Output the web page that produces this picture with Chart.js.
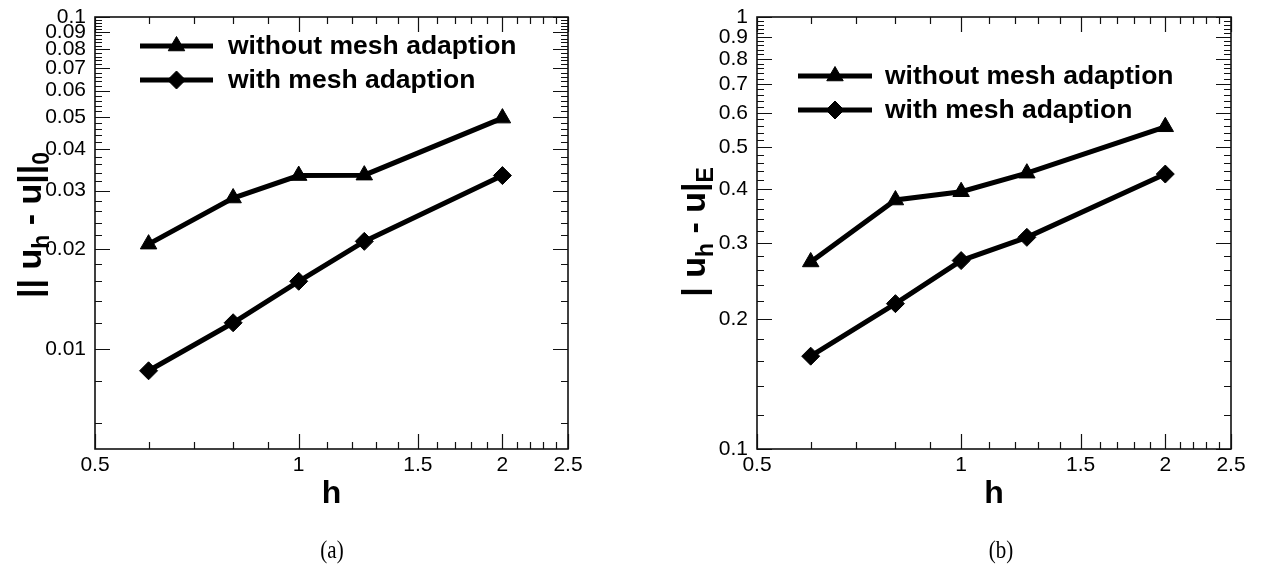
<!DOCTYPE html>
<html><head><meta charset="utf-8">
<script src="https://cdn.jsdelivr.net/npm/chart.js@4/dist/chart.umd.min.js"></script>
<style>
html,body{margin:0;padding:0;background:#fff;}
#wrap{position:relative;width:1264px;height:581px;overflow:hidden;background:#fff;}
canvas{position:absolute;top:0;}
#ca{left:0}
#cb{left:632px}
.cap{position:absolute;top:551px;font-family:'Liberation Serif','DejaVu Serif',serif;font-size:21px;color:#000;transform:translate(-50%,-50%) scaleY(1.15);white-space:nowrap;}
</style></head>
<body><div id="wrap">
<canvas id="ca" width="632" height="581"></canvas>
<canvas id="cb" width="632" height="581"></canvas>
<div class="cap" style="left:332px">(a)</div>
<div class="cap" style="left:1001px">(b)</div>
</div>
<script>
// ---------- data ----------
const hValues = [0.6, 0.8, 1.0, 1.25, 2.0];
const seriesLabels = ['without mesh adaption', 'with mesh adaption'];
const l2WithoutAdapt = [0.0207, 0.0285, 0.0333, 0.0334, 0.0496];
const l2WithAdapt    = [0.0086, 0.0120, 0.0160, 0.0211, 0.0333];
const enWithoutAdapt = [0.271, 0.377, 0.394, 0.435, 0.557];
const enWithAdapt    = [0.164, 0.217, 0.273, 0.309, 0.433];

const xTickLabels  = [0.5, 1, 1.5, 2, 2.5];
const yTickLabelsA = [0.01, 0.02, 0.03, 0.04, 0.05, 0.06, 0.07, 0.08, 0.09, 0.1];
const yTickLabelsB = [0.1, 0.2, 0.3, 0.4, 0.5, 0.6, 0.7, 0.8, 0.9, 1];

// minor tick positions
function minorTicks(from, to, step, majors) {
  const out = [];
  for (let k = Math.round(from / step); k * step <= to + 1e-12; k++) {
    const v = +(k * step).toFixed(6);
    if (!majors.some(m => Math.abs(m - v) < 1e-9)) out.push(v);
  }
  return out;
}
const xMinorTicks  = minorTicks(0.5, 2.5, 0.1, xTickLabels);
const yMinorTicksA = minorTicks(0.006, 0.1, 0.002, yTickLabelsA);
const yMinorTicksB = minorTicks(0.12, 1, 0.02, yTickLabelsB);

const FONT = "'Liberation Sans', Arial, Helvetica, sans-serif";

// ---------- plugins ----------
const decorPlugin = {
  id: 'decor',
  beforeDatasetsDraw(chart, args, o) {
    const ctx = chart.ctx, a = chart.chartArea;
    const xs = chart.scales.x, ys = chart.scales.y;
    ctx.save();
    ctx.strokeStyle = '#111';
    ctx.lineWidth = 1.2;
    ctx.beginPath();
    const tick = (vals, len, isX) => {
      vals.forEach(v => {
        if (isX) {
          const px = Math.round(xs.getPixelForValue(v)) + 0.5;
          ctx.moveTo(px, a.bottom); ctx.lineTo(px, a.bottom - len);
          ctx.moveTo(px, a.top); ctx.lineTo(px, a.top + len);
        } else {
          const py = Math.round(ys.getPixelForValue(v)) + 0.5;
          ctx.moveTo(a.left, py); ctx.lineTo(a.left + len, py);
          ctx.moveTo(a.right, py); ctx.lineTo(a.right - len, py);
        }
      });
    };
    tick(o.xMajor, 15, true);
    tick(o.xMinor, 7, true);
    tick(o.yMajor, 15, false);
    tick(o.yMinor, 7, false);
    ctx.stroke();
    ctx.restore();
  },
  afterDatasetsDraw(chart, args, o) {
    const ctx = chart.ctx, a = chart.chartArea;
    ctx.save();
    // frame
    ctx.strokeStyle = '#111';
    ctx.lineWidth = 1.6;
    ctx.strokeRect(a.left, a.top, a.right - a.left, a.bottom - a.top);

    // legend
    chart.data.datasets.forEach((ds, i) => {
      const y = o.legend.rows[i];
      ctx.strokeStyle = '#000';
      ctx.fillStyle = '#000';
      ctx.lineWidth = 5;
      ctx.beginPath();
      ctx.moveTo(o.legend.x1, y); ctx.lineTo(o.legend.x2, y);
      ctx.stroke();
      const cx = (o.legend.x1 + o.legend.x2) / 2;
      ctx.lineWidth = 1;
      Chart.helpers.drawPoint(ctx, {pointStyle: ds.pointStyle, rotation: 0, radius: ds.pointRadius, borderWidth: 1}, cx, y);
      ctx.font = 'bold 26.5px ' + FONT;
      ctx.textBaseline = 'middle';
      ctx.textAlign = 'left';
      ctx.fillText(ds.label, o.legend.tx, y + 1);
    });

    // y-axis title with subscripts (rotated)
    const t = o.ytitle;
    ctx.translate(t.x, t.y);
    ctx.rotate(-Math.PI / 2);
    ctx.fillStyle = '#000';
    ctx.textBaseline = 'alphabetic';
    ctx.textAlign = 'left';
    const mainF = 'bold ' + t.size + 'px ' + FONT;
    const subF = 'bold ' + t.sub + 'px ' + FONT;
    let total = 0;
    t.parts.forEach(p => { ctx.font = p.s ? subF : mainF; total += ctx.measureText(p.t).width; });
    let x = -total / 2;
    t.parts.forEach(p => {
      ctx.font = p.s ? subF : mainF;
      ctx.fillText(p.t, x, p.s ? t.subShift : 0);
      x += ctx.measureText(p.t).width;
    });
    ctx.restore();
  }
};

function makeChart(id, withoutVals, withVals, yMin, yMax, yLabels, yMinor, yAxisWidth, rightPad, decor) {
  const pts = vals => hValues.map((h, i) => ({x: h, y: vals[i]}));
  const dsBase = {
    borderColor: '#000', backgroundColor: '#000', borderWidth: 5,
    pointBackgroundColor: '#000', pointBorderColor: '#000', pointBorderWidth: 1,
    tension: 0, fill: false, clip: false
  };
  return new Chart(document.getElementById(id), {
    type: 'line',
    data: {
      datasets: [
        Object.assign({label: seriesLabels[0], data: pts(withoutVals), pointStyle: 'triangle', pointRadius: 9.5}, dsBase),
        Object.assign({label: seriesLabels[1], data: pts(withVals), pointStyle: 'rectRot', pointRadius: 9}, dsBase)
      ]
    },
    options: {
      responsive: false,
      animation: false,
      devicePixelRatio: 1,
      layout: {padding: {left: 0, top: 17, right: rightPad, bottom: 0}},
      plugins: {legend: {display: false}, tooltip: {enabled: false}, decor: decor},
      scales: {
        x: {
          type: 'logarithmic', position: 'bottom', min: 0.5, max: 2.5,
          grid: {display: false, drawTicks: false}, border: {display: false},
          ticks: {autoSkip: false, maxRotation: 0, minRotation: 0, padding: 4, color: '#000',
                  font: {family: FONT, size: 21}, callback: v => String(v)},
          title: {display: true, text: 'h', color: '#000', font: {family: FONT, size: 32, weight: 'bold'},
                  padding: {top: 0, bottom: 68}},
          afterBuildTicks: s => { s.ticks = xTickLabels.map(v => ({value: v})); },
          afterFit: s => { s.height = 132; s.paddingLeft = 0; s.paddingRight = 0; s.paddingTop = 0; s.paddingBottom = 0; }
        },
        y: {
          type: 'logarithmic', position: 'left', min: yMin, max: yMax,
          grid: {display: false, drawTicks: false}, border: {display: false},
          ticks: {autoSkip: false, padding: 9, color: '#000', font: {family: FONT, size: 21},
                  callback: v => String(v)},
          afterBuildTicks: s => { s.ticks = yLabels.map(v => ({value: v})); },
          afterFit: s => { s.width = yAxisWidth; s.paddingLeft = 0; s.paddingRight = 0; s.paddingTop = 0; s.paddingBottom = 0; }
        }
      }
    },
    plugins: [decorPlugin]
  });
}

makeChart('ca', l2WithoutAdapt, l2WithAdapt, 0.005, 0.1, yTickLabelsA, yMinorTicksA, 95, 64, {
  xMajor: xTickLabels, xMinor: xMinorTicks, yMajor: yTickLabelsA, yMinor: yMinorTicksA,
  legend: {x1: 140, x2: 213, rows: [46, 80], tx: 228},
  ytitle: {x: 41, y: 225, size: 34, sub: 23, subShift: 8,
           parts: [{t: '|| u'}, {t: 'h', s: true}, {t: ' - u||'}, {t: '0', s: true}]}
});
makeChart('cb', enWithoutAdapt, enWithAdapt, 0.1, 1, yTickLabelsB, yMinorTicksB, 125, 33, {
  xMajor: xTickLabels, xMinor: xMinorTicks, yMajor: yTickLabelsB, yMinor: yMinorTicksB,
  legend: {x1: 166, x2: 240, rows: [76, 110], tx: 253},
  ytitle: {x: 73, y: 232, size: 34, sub: 23, subShift: 8,
           parts: [{t: '| u'}, {t: 'h', s: true}, {t: ' - u|'}, {t: 'E', s: true}]}
});
</script>
</body></html>
